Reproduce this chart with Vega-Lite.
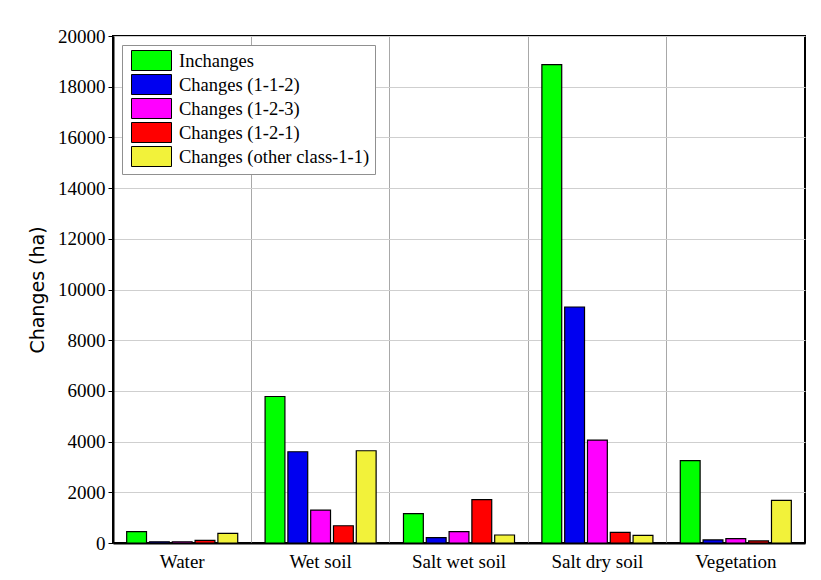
{
  "$schema": "https://vega.github.io/schema/vega-lite/v6.json",
  "width": 692,
  "height": 507,
  "autosize": {"type": "none"},
  "padding": {"left": 113, "top": 36, "right": 16, "bottom": 37},
  "background": "white",
  "data": {
    "values": [
      {"cls": "Water", "type": "Inchanges", "value": 450},
      {"cls": "Water", "type": "Changes (1-1-2)", "value": 50},
      {"cls": "Water", "type": "Changes (1-2-3)", "value": 50},
      {"cls": "Water", "type": "Changes (1-2-1)", "value": 100},
      {"cls": "Water", "type": "Changes (other class-1-1)", "value": 380},
      {"cls": "Wet soil", "type": "Inchanges", "value": 5780},
      {"cls": "Wet soil", "type": "Changes (1-1-2)", "value": 3600},
      {"cls": "Wet soil", "type": "Changes (1-2-3)", "value": 1300},
      {"cls": "Wet soil", "type": "Changes (1-2-1)", "value": 680},
      {"cls": "Wet soil", "type": "Changes (other class-1-1)", "value": 3640},
      {"cls": "Salt wet soil", "type": "Inchanges", "value": 1160},
      {"cls": "Salt wet soil", "type": "Changes (1-1-2)", "value": 210},
      {"cls": "Salt wet soil", "type": "Changes (1-2-3)", "value": 450},
      {"cls": "Salt wet soil", "type": "Changes (1-2-1)", "value": 1710},
      {"cls": "Salt wet soil", "type": "Changes (other class-1-1)", "value": 315},
      {"cls": "Salt dry soil", "type": "Inchanges", "value": 18870},
      {"cls": "Salt dry soil", "type": "Changes (1-1-2)", "value": 9310},
      {"cls": "Salt dry soil", "type": "Changes (1-2-3)", "value": 4060},
      {"cls": "Salt dry soil", "type": "Changes (1-2-1)", "value": 420},
      {"cls": "Salt dry soil", "type": "Changes (other class-1-1)", "value": 300},
      {"cls": "Vegetation", "type": "Inchanges", "value": 3250},
      {"cls": "Vegetation", "type": "Changes (1-1-2)", "value": 120},
      {"cls": "Vegetation", "type": "Changes (1-2-3)", "value": 170},
      {"cls": "Vegetation", "type": "Changes (1-2-1)", "value": 80},
      {"cls": "Vegetation", "type": "Changes (other class-1-1)", "value": 1680}
    ]
  },
  "mark": {"type": "bar", "stroke": "black", "strokeWidth": 1.2},
  "encoding": {
    "x": {
      "field": "cls",
      "type": "nominal",
      "sort": ["Water", "Wet soil", "Salt wet soil", "Salt dry soil", "Vegetation"],
      "scale": {"paddingInner": 0, "paddingOuter": 0},
      "axis": {
        "title": null,
        "labelAngle": 0,
        "labelFont": "Liberation Serif",
        "labelFontSize": 19,
        "labelColor": "black",
        "ticks": false,
        "grid": true,
        "bandPosition": 0,
        "gridColor": "#a8a8a8",
        "gridWidth": 1,
        "domainColor": "black",
        "domainWidth": 2,
        "labelPadding": 9
      }
    },
    "xOffset": {
      "field": "type",
      "type": "nominal",
      "sort": ["Inchanges", "Changes (1-1-2)", "Changes (1-2-3)", "Changes (1-2-1)", "Changes (other class-1-1)"],
      "scale": {"paddingInner": 0.13, "paddingOuter": 0.6}
    },
    "y": {
      "field": "value",
      "type": "quantitative",
      "scale": {"domain": [0, 20000], "nice": false},
      "axis": {
        "title": "Changes (ha)",
        "titleFont": "DejaVu Sans",
        "titleFontSize": 19,
        "titleFontWeight": "normal",
        "titleColor": "black",
        "titlePadding": 10,
        "values": [0, 2000, 4000, 6000, 8000, 10000, 12000, 14000, 16000, 18000, 20000],
        "format": "d",
        "labelFont": "Liberation Serif",
        "labelFontSize": 19,
        "labelColor": "black",
        "labelPadding": 3,
        "tickSize": 5,
        "tickColor": "black",
        "tickWidth": 1,
        "domainColor": "black",
        "domainWidth": 2,
        "gridColor": "#cfcfcf",
        "gridWidth": 1
      }
    },
    "fill": {
      "field": "type",
      "type": "nominal",
      "scale": {
        "domain": ["Inchanges", "Changes (1-1-2)", "Changes (1-2-3)", "Changes (1-2-1)", "Changes (other class-1-1)"],
        "range": ["#00ff00", "#0000f0", "#ff00ff", "#ff0000", "#f2f23a"]
      },
      "legend": {
        "title": null,
        "orient": "top-left",
        "offset": 9,
        "fillColor": "white",
        "strokeColor": "#909090",
        "padding": 5,
        "labelFont": "Liberation Serif",
        "labelFontSize": 18.5,
        "labelColor": "black",
        "labelLimit": 400,
        "labelOffset": 17,
        "symbolType": "M-2,-1H2V1H-2Z",
        "symbolSize": 400,
        "symbolOffset": 14,
        "symbolStrokeColor": "black",
        "symbolStrokeWidth": 1,
        "symbolOpacity": 1,
        "rowPadding": -1
      }
    }
  },
  "config": {"view": {"stroke": "black", "strokeWidth": 2}}
}
